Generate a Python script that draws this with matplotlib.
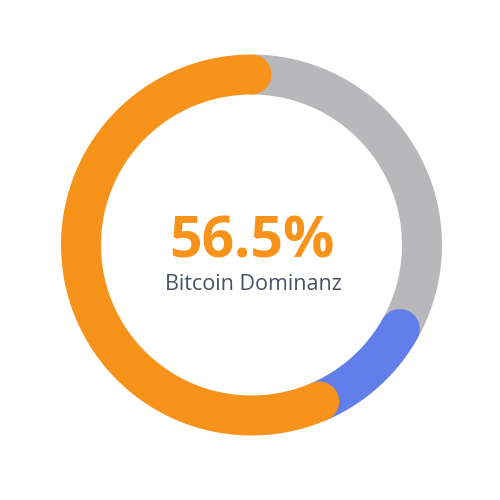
import matplotlib.pyplot as plt
import numpy as np

labels = ['Bitcoin', 'Ethereum', 'Andere']
shares = [56.5, 10.3, 33.2]
colors = ['#F7931A', '#627EEA', '#B8B8BA']
big_text = '56.5%'
sub_text = 'Bitcoin Dominanz'

cx, cy = 251.5, 245
r_mid = 170.5
ring_px = 40

fig = plt.figure(figsize=(5, 5), dpi=100)
ax = fig.add_axes([0, 0, 1, 1])
ax.set_xlim(0, 500)
ax.set_ylim(500, 0)
ax.set_aspect('equal')
ax.axis('off')

# segments run counterclockwise from 12 o'clock, angles clockwise from top
ends = 360 - np.cumsum([0] + shares) * 3.6
segs = []
for i in range(len(shares)):
    segs.append((ends[i + 1], ends[i], colors[i]))

# draw last segment first so earlier caps overlap the following ones
for a0, a1, c in reversed(segs):
    th = np.radians(np.linspace(a0, a1, 200))
    ax.plot(cx + r_mid * np.sin(th), cy - r_mid * np.cos(th), color=c,
            lw=ring_px * 72 / 100, solid_capstyle='round')

ax.text(251.5, 243, big_text, ha='center', va='center', fontsize=41,
        fontweight='bold', color='#F7931A', family='Open Sans')
ax.text(253, 285, sub_text, ha='center', va='center', fontsize=15.5,
        color='#4A5262', family='Open Sans')

fig.savefig('out.png', dpi=100)
